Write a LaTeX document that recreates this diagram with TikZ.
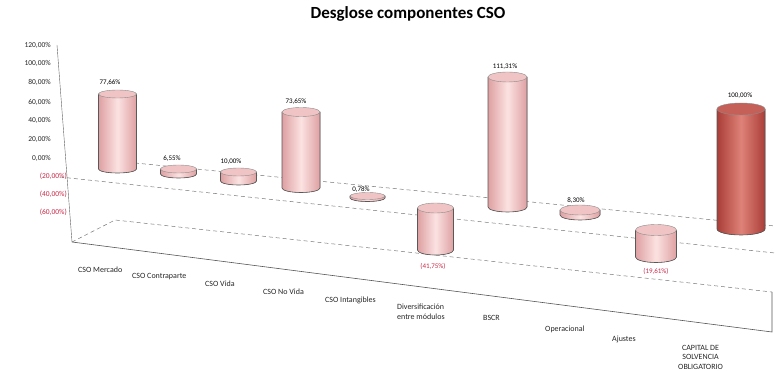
\documentclass[tikz,border=0pt]{standalone}
\usepackage{fontspec}
\setmainfont{Carlito}

\definecolor{facepink}{RGB}{252,226,226}
\definecolor{sidepink}{RGB}{222,160,162}
\definecolor{toppink}{RGB}{240,196,196}
\definecolor{facered}{RGB}{222,130,120}
\definecolor{sidered}{RGB}{170,62,56}
\definecolor{topred}{RGB}{196,96,88}
\definecolor{negred}{RGB}{200,40,70}
\definecolor{gridgray}{RGB}{120,120,120}

\begin{document}
\begin{tikzpicture}[x=1pt, y=-1pt,
	grid/.style={gridgray, dash pattern=on 4pt off 3pt, line width=0.5pt},
	floor/.style={gridgray!70!black, line width=0.6pt},
	barline/.style={black!65, line width=0.6pt},
	ticklabel/.style={anchor=east, inner sep=1pt, text=black!85, font=\fontsize{7.5}{8}\selectfont},
	vallabel/.style={inner sep=1pt, font=\fontsize{7}{8}\selectfont},
	catlabel/.style={anchor=west, align=left, inner sep=0pt, text=black!85, font=\fontsize{8}{9.5}\selectfont}]

	\useasboundingbox (0,0) rectangle (775,371);

	\node (title) at (408, 14) {\fontsize{17}{19}\selectfont\bfseries Desglose componentes CSO};

	\coordinate (axistop) at (57,45);
	\coordinate (floorleft) at (72,242);
	\coordinate (floorback) at (115,220);
	\coordinate (floorright) at (772,332);
	\coordinate (floorbackright) at (772,292);

	\draw
		[gridgray!80!black] (axistop) -- (floorleft);

	\foreach \p/\y in {120/45,100/63,80/82,60/102,40/120,20/139,0/158}
		\node (tick\p) [ticklabel] at (52,\y) {\p,00\%};

	\foreach \p/\y in {20/176,40/194,60/212}
		\node (ntick\p) [ticklabel, text=negred] at (68,\y) {(\p,00\%)};

	\draw
		[grid] (135,163) -- (775,226);

	\draw
		[grid] (60,177) -- (775,253);

	\draw
		[grid] (floorleft) -- (floorback) -- (floorbackright);

	\draw
		[floor] (floorleft) -- (floorright) -- (floorbackright);

	\foreach \c/\w/\t/\b/\r/\k in {117.5/19/94/169/4/pink, 178.5/18/169/174/4/pink,
		238.5/18/172/181/4/pink, 301/19/112/188/4.5/pink, 367.5/17.5/196/198/3.5/pink,
		435.5/18/208/250/5/pink, 507.5/19.5/77/207/5/pink, 580/20/210/215/5/pink,
		656/20.5/230/257/5.5/pink, 741/24/109/229/6/red}
	{
		\fill
			[left color=side\k, right color=side\k, middle color=face\k]
			(\c-\w,\t) -- (\c-\w,\b) arc[start angle=180, end angle=360, x radius=\w pt, y radius=\r pt]
			-- (\c+\w,\t) -- cycle;
		\draw
			[barline] (\c-\w,\t) -- (\c-\w,\b)
			arc[start angle=180, end angle=360, x radius=\w pt, y radius=\r pt] -- (\c+\w,\t);
		\filldraw
			[fill=top\k, draw=black!45, line width=0.4pt] (\c,\t) ellipse[x radius=\w pt, y radius=\r pt];
	}

	\foreach \i/\x/\y/\v/\k in {1/110/83/{77,66\%}/black, 2/172/159/{6,55\%}/black,
		3/231/162/{10,00\%}/black, 4/296/102/{73,65\%}/black, 5/361/190/{0,78\%}/black,
		6/433/266/{(41,75\%)}/negred, 7/505/67/{111,31\%}/black, 8/576/201/{8,30\%}/black,
		9/656/271/{(19,61\%)}/negred, 10/740/96/{100,00\%}/black}
		\node (val\i) [vallabel, text=\k] at (\x,\y) {\v};

	\foreach \i/\x/\y/\t in {1/78/270/{CSO Mercado}, 2/132/277/{CSO Contraparte},
		3/205/284/{CSO Vida}, 4/263/292/{CSO No Vida}, 5/325/300/{CSO Intangibles},
		6/397/312/{Diversificación\\entre módulos}, 7/483/318/{BSCR},
		8/545/329/{Operacional}, 9/612/339/{Ajustes}}
		\node (cat\i) [catlabel] at (\x,\y) {\t};

	\node (cat10) [catlabel, align=center] at (678,357) {CAPITAL DE\\SOLVENCIA\\OBLIGATORIO};
\end{tikzpicture}
\end{document}
